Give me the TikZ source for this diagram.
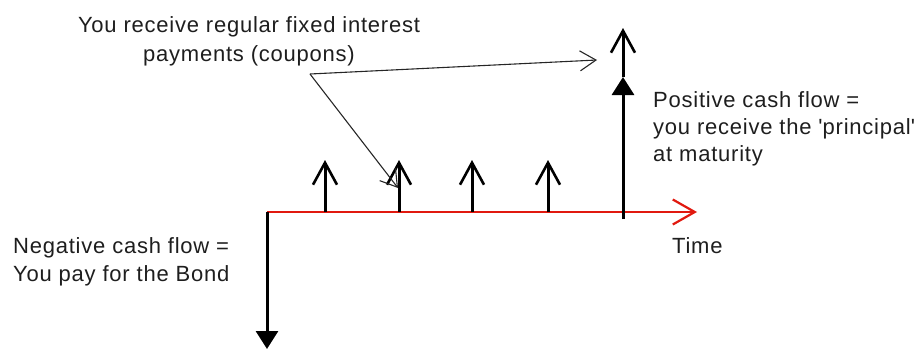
\documentclass[tikz,border=0pt]{standalone}
\usepackage{fontspec}
\setmainfont{Liberation Sans}[LetterSpace=3.5]
\usetikzlibrary{arrows.meta}
\definecolor{axisred}{RGB}{225,25,15}
\definecolor{txt}{RGB}{30,30,30}
\begin{document}
\begin{tikzpicture}[x=1pt,y=-1pt,
  lbl/.style={inner sep=0pt,text=txt,font=\fontsize{22}{28}\selectfont},
  flow/.style={line width=3pt,black},
  barb/.style={-{Straight Barb[length=22pt,width=24pt,line width=2.6pt]}},
  filltip/.style={-{Triangle[length=18pt,width=22pt]}},
  pointer/.style={line width=1.1pt,black!85,-{Straight Barb[length=16pt,width=20pt,line width=1.1pt]}}]
\useasboundingbox (0,0) rectangle (921,351);
% coordinates
\coordinate (o) at (267,212);
\coordinate (tend) at (697,212);
\coordinate (down) at (267,349);
\foreach \i/\x in {1/325,2/399,3/472,4/548}{
  \coordinate (c\i) at (\x,212);
  \coordinate (t\i) at (\x,160);
}
\coordinate (pb) at (623,219);
\coordinate (pm) at (623,77);
\coordinate (pt) at (623,28);
\coordinate (src) at (310,74);
\coordinate (ptr1) at (597,60);
\coordinate (ptr2) at (398,188);
% axis
\draw[axisred,line width=2.6pt,-{Straight Barb[length=22pt,width=25pt,line width=2.2pt]}] (o) -- (tend);
% negative cash flow
\draw[flow,filltip] (o) -- (down);
% coupons
\foreach \i in {1,...,4}{\draw[flow,barb] (c\i) -- (t\i);}
% principal
\draw[flow,filltip] (pb) -- (pm);
\draw[flow,barb] (pm) -- (pt);
% pointers
\draw[pointer] (src) -- (ptr1);
\draw[pointer] (src) -- (ptr2);
% texts
\node[lbl,anchor=base,font=\fontsize{22}{29}\selectfont] (coup) at (249,32) {\begin{tabular}[t]{@{}c@{}}You receive regular fixed interest\\payments (coupons)\end{tabular}};
\node[lbl,anchor=base west,font=\fontsize{22}{28.5}\selectfont] (neg) at (13,253) {\begin{tabular}[t]{@{}l@{}}Negative cash flow =\\You pay for the Bond\end{tabular}};
\node[lbl,anchor=base west,font=\fontsize{22}{27}\selectfont] (pos) at (653,107) {\begin{tabular}[t]{@{}l@{}}Positive cash flow =\\you receive the \textquotesingle principal\textquotesingle\\at maturity\end{tabular}};
\node[lbl,anchor=base west] (time) at (672,253) {Time};
\end{tikzpicture}
\end{document}
